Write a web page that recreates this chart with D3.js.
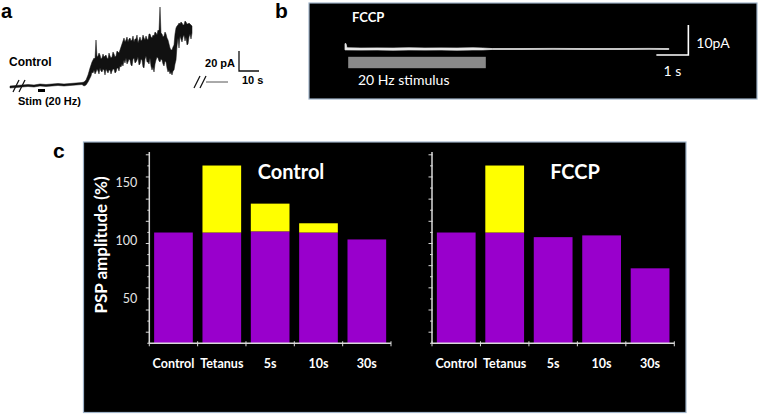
<!DOCTYPE html>
<html><head><meta charset="utf-8">
<script src="https://cdn.jsdelivr.net/npm/d3@7"></script>
<style>
html,body{margin:0;padding:0;background:#fff;}
svg{display:block;}
</style></head><body>
<svg id="fig" width="762" height="414"></svg>
<script>
// ================= DATA =================
// panel c : PSP amplitude (%)
const categories = ["Control", "Tetanus", "5s", "10s", "30s"];
const controlBase  = [107, 107, 108, 107, 101];
const controlExtra = [0, 58, 24, 8, 0];
const fccpBase  = [107, 107, 103, 104.5, 76];
const fccpExtra = [0, 58, 0, 0, 0];
const yTickLabels = [50, 100, 150];
const panelTitles = ["Control", "FCCP"];
const yAxisTitle = "PSP amplitude (%)";

// panel a : current trace envelope (time s, current pA)
const aTraceT  = [0,3,6,9,12,15,18,21,24,27,30,33,36,37,38,39,
  40,40.5,41,41.5,42,42.5,43,43.5,44,44.5,45,45.5,46,46.5,47,47.5,48,48.5,49,49.5,
  50,50.5,51,51.5,52,52.5,53,53.5,54,54.5,55,55.5,56,56.5,57,57.5,58,58.5,59,59.5,
  60,60.5,61,61.5,62,62.5,63,63.5,64,64.5,65,65.5,66,66.5,67,67.5,68,68.5,69,69.5,
  70,70.5,71,71.5,72,72.5,73,73.5,74,74.5,75,75.5,76,76.5,77,77.5,78,78.5,79,79.5,
  80,80.5,81,81.5,82,82.5,83,83.5,84,84.5,85,85.5,86,86.5,87,87.5,88,88.5,89,89.5,
  90,90.5,91];
const aTraceHi = [0,0.5,1,1.5,1,2,1.5,2,2.5,2,2.5,3,3.5,4,6,11,
  18,21,24,26,28,27,46,29,30,33,31,27,28,32,29,30,31,28,27,33,
  30,28,29,34,32,29,30,35,34,33,36,39,42,45,48,44,46,49,44,47,
  48,45,46,50,44,47,47,51,43,46,49,45,46,51,48,46,50,47,46,52,
  52,49,48,51,50,54,53,51,56,55,79,53,52,49,50,54,52,48,46,42,
  38,36,36,39,41,52,58,60,61,63,62,64,63,61,61,65,64,62,62,63,
  62,61,60];
const aTraceLo = [-2,-1.5,-1,-0.5,-1,0,-0.5,0,0.5,0,0.5,1,1.5,0,1,4,
  8,10,14,13,16,12,14,17,15,12,18,15,14,17,16,11,17,15,13,16,
  16,12,15,17,17,13,14,18,18,15,20,19,22,20,26,23,28,22,24,27,
  26,21,20,27,28,23,24,26,29,21,22,27,26,19,18,27,30,24,24,22,
  28,20,16,19,14,22,26,29,28,25,24,27,26,22,20,25,24,18,14,16,
  12,14,11,15,16,22,26,40,48,38,50,47,44,49,51,45,49,41,42,49,
  52,47,53];
const aTailT = [98, 109];
const aTailI = [4, 4];
const aBreakT = [4.5, 95];
const aStim = [14, 17.5];

// panel b : FCCP trace envelope (time s, current pA)
const bTraceT  = [0, 0.03, 0.06, 0.5, 1, 1.5, 2, 2.5, 3, 3.5, 4, 4.3, 4.6, 5.5, 6.5, 7.5, 8.5, 9.5, 10.12];
const bTraceHi = [1.8, 1.8, 0.4, 0.3, 0.35, 0.3, 0.4, 0.3, 0.35, 0.3, 0.4, 0.3, 0.15, 0.15, 0.2, 0.15, 0.15, 0.2, 0.15];
const bTraceLo = [-0.3, -0.3, -0.3, -0.35, -0.3, -0.4, -0.3, -0.35, -0.3, -0.4, -0.3, -0.3, -0.15, -0.15, -0.1, -0.15, -0.15, -0.1, -0.15];
const bStim = [0.1, 4.4];

// ================= DRAWING =================
const svg = d3.select("#fig");
const FA = "'Liberation Sans', Arial, sans-serif";
const FC = "Lato, 'Open Sans', sans-serif";
const purple = "#9900cc", yellow = "#ffff00";

// ---------- panel a ----------
const xA = d3.scaleLinear().domain([0, 10]).range([10, 30]);
const yA = d3.scaleLinear().domain([0, 20]).range([86, 66]);
svg.append("text").attr("x", 1).attr("y", 18).text("a")
  .attr("font-family", FA).attr("font-weight", "bold").attr("font-size", 20).attr("fill", "#000");
const aData = aTraceT.map((t, i) => ({t, hi: aTraceHi[i], lo: aTraceLo[i]}));
svg.append("path").datum(aData)
  .attr("d", d3.area().x(d => xA(d.t)).y0(d => yA(d.lo)).y1(d => yA(d.hi)))
  .attr("fill", "#111").attr("stroke", "#111").attr("stroke-width", 0.5);
svg.append("path").datum(aTailT.map((t, i) => ({t, v: aTailI[i]})))
  .attr("d", d3.line().x(d => xA(d.t)).y(d => yA(d.v)))
  .attr("stroke", "#555").attr("stroke-width", 1).attr("fill", "none");
aBreakT.forEach(t => {
  const base = t < 50 ? yA(0) : yA(aTailI[0]);
  [-3, 3].forEach(dx => {
    svg.append("line")
      .attr("x1", xA(t) + dx - 3).attr("y1", base + 6)
      .attr("x2", xA(t) + dx + 3).attr("y2", base - 6)
      .attr("stroke", "#111").attr("stroke-width", 1.3);
  });
});
svg.append("rect").attr("x", xA(aStim[0])).attr("y", yA(-3))
  .attr("width", xA(aStim[1]) - xA(aStim[0])).attr("height", yA(-6) - yA(-3)).attr("fill", "#000");
svg.append("text").attr("x", 9).attr("y", 66).text("Control")
  .attr("font-family", FA).attr("font-weight", "bold").attr("font-size", 12);
svg.append("text").attr("x", 18).attr("y", 105).text("Stim (20 Hz)")
  .attr("font-family", FA).attr("font-weight", "bold").attr("font-size", 11);
// scale bars
const sbT = 114.5, sbI = 15;
svg.append("path")
  .attr("d", `M${xA(sbT)},${yA(sbI + 20)}V${yA(sbI)}H${xA(sbT + 10)}`)
  .attr("fill", "none").attr("stroke", "#111").attr("stroke-width", 1.3);
svg.append("text").attr("x", xA(sbT) - 4).attr("y", 67).attr("text-anchor", "end").text("20 pA")
  .attr("font-family", FA).attr("font-weight", "bold").attr("font-size", 11);
svg.append("text").attr("x", xA(sbT) + 3).attr("y", 84).text("10 s")
  .attr("font-family", FA).attr("font-weight", "bold").attr("font-size", 11);

// ---------- panel b ----------
svg.append("text").attr("x", 275).attr("y", 18).text("b")
  .attr("font-family", FA).attr("font-weight", "bold").attr("font-size", 21);
svg.append("rect").attr("x", 309).attr("y", 3).attr("width", 448).attr("height", 96)
  .attr("fill", "#000").attr("stroke", "#9fb3c8").attr("stroke-width", 1.2);
const xB = d3.scaleLinear().domain([0, 1]).range([345, 377]);
const yB = d3.scaleLinear().domain([0, 10]).range([49, 19]);
svg.append("text").attr("x", 352).attr("y", 22).text("FCCP")
  .attr("font-family", FC).attr("font-weight", "bold").attr("font-size", 13).attr("fill", "#fff");
const bData = bTraceT.map((t, i) => ({t, hi: bTraceHi[i], lo: bTraceLo[i]}));
svg.append("path").datum(bData)
  .attr("d", d3.area().x(d => xB(d.t)).y0(d => yB(d.lo)).y1(d => yB(d.hi)))
  .attr("fill", "#eee").attr("stroke", "#ddd").attr("stroke-width", 0.8);
svg.append("rect").attr("x", xB(bStim[0])).attr("y", yB(-2.6))
  .attr("width", xB(bStim[1]) - xB(bStim[0])).attr("height", yB(-6.4) - yB(-2.6)).attr("fill", "#898989");
svg.append("text").attr("x", 358).attr("y", 85).text("20 Hz stimulus")
  .attr("font-family", FC).attr("font-size", 14).attr("fill", "#fff");
const sbbT = 10.73;
svg.append("path")
  .attr("d", `M${xB(sbbT)},${yB(8)}V${yB(-2)}H${xB(sbbT - 1)}`)
  .attr("fill", "none").attr("stroke", "#fff").attr("stroke-width", 1.6);
svg.append("text").attr("x", xB(sbbT) + 8).attr("y", 48).text("10pA")
  .attr("font-family", FC).attr("font-size", 14).attr("fill", "#fff");
svg.append("text").attr("x", xB(sbbT - 0.5)).attr("y", 76).attr("text-anchor", "middle").text("1 s")
  .attr("font-family", FC).attr("font-size", 14).attr("fill", "#fff");

// ---------- panel c ----------
svg.append("text").attr("x", 53).attr("y", 158).text("c")
  .attr("font-family", FA).attr("font-weight", "bold").attr("font-size", 21);
svg.append("rect").attr("x", 83.5).attr("y", 142).attr("width", 602.5).attr("height", 270.5)
  .attr("fill", "#000").attr("stroke", "#9fb3c8").attr("stroke-width", 1.2);

const yC = d3.scaleLinear().domain([0, 180]).range([356.1, 148.2]);
const axisMin = 11.1, axisMax = 176.7;
const minorTicks = d3.range(axisMin, axisMax, 9.6);
const axisCol = "#d9d9d9";

function drawChart(x0, x1, base, extra, title, titleX, showLabels) {
  const g = svg.append("g");
  const xb = d3.scaleBand().domain(categories).range([x0, x1]).paddingInner(0.2).paddingOuter(0.1);
  const step = xb.step();
  g.selectAll(".base").data(categories).enter().append("rect")
    .attr("x", d => xb(d)).attr("width", xb.bandwidth())
    .attr("y", (d, i) => yC(base[i])).attr("height", (d, i) => yC(axisMin) - yC(base[i]))
    .attr("fill", purple);
  g.selectAll(".extra").data(categories.filter((d, i) => extra[i] > 0)).enter().append("rect")
    .attr("x", d => xb(d)).attr("width", xb.bandwidth())
    .attr("y", d => { const i = categories.indexOf(d); return yC(base[i] + extra[i]); })
    .attr("height", d => { const i = categories.indexOf(d); return yC(base[i]) - yC(base[i] + extra[i]); })
    .attr("fill", yellow);
  g.append("line").attr("x1", x0).attr("x2", x0).attr("y1", yC(axisMax)).attr("y2", yC(axisMin))
    .attr("stroke", axisCol).attr("stroke-width", 1.5);
  minorTicks.forEach((v, i) => {
    g.append("line").attr("x1", x0 - (i % 2 ? 3.5 : 2)).attr("x2", x0 + 0.5)
      .attr("y1", yC(v)).attr("y2", yC(v)).attr("stroke", axisCol).attr("stroke-width", 1);
  });
  g.append("line").attr("x1", x0).attr("x2", x1).attr("y1", yC(axisMin)).attr("y2", yC(axisMin))
    .attr("stroke", axisCol).attr("stroke-width", 1.5);
  d3.range(categories.length + 1).forEach(i => {
    const xx = x0 + i * step;
    g.append("line").attr("x1", xx).attr("x2", xx).attr("y1", yC(axisMin) - 2).attr("y2", yC(axisMin) + 3)
      .attr("stroke", axisCol).attr("stroke-width", 1);
  });
  g.selectAll(".xl").data(categories).enter().append("text")
    .attr("x", d => xb(d) + xb.bandwidth() / 2).attr("y", 367.5)
    .attr("text-anchor", "middle").text(d => d)
    .attr("font-family", FC).attr("font-weight", "bold").attr("font-size", 12.5).attr("fill", "#fff");
  if (showLabels) {
    g.selectAll(".yl").data(yTickLabels).enter().append("text")
      .attr("x", x0 - 12).attr("y", d => yC(d)).attr("dy", "0.35em")
      .attr("text-anchor", "end").text(d => d)
      .attr("font-family", FC).attr("font-size", 12.5).attr("fill", "#e6e6e6");
  }
  g.append("text").attr("x", titleX).attr("y", 179).attr("text-anchor", "middle").text(title)
    .attr("font-family", FC).attr("font-weight", "bold").attr("font-size", 20).attr("fill", "#fff");
}
drawChart(149.3, 391, controlBase, controlExtra, panelTitles[0], 291, true);
drawChart(432, 674.3, fccpBase, fccpExtra, panelTitles[1], 575, false);

svg.append("text").attr("transform", "translate(107,245) rotate(-90)")
  .attr("text-anchor", "middle").text(yAxisTitle)
  .attr("font-family", FC).attr("font-weight", "bold").attr("font-size", 17).attr("fill", "#fff");
</script>
</body></html>
